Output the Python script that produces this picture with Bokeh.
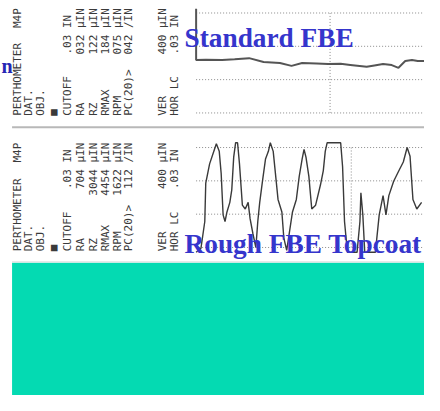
import math
from bokeh.plotting import figure
from bokeh.models import Range1d, Label
from bokeh.core.properties import value
from bokeh.embed import file_html
from bokeh.resources import INLINE

# ---------------- data ----------------
titles = ["Standard FBE", "Rough FBE Topcoat"]
title_fragment = "n"

param_labels = ["PERTHOMETER", "DAT.", "OBJ.", "\u25a0", "CUTOFF", "RA", "RZ",
                "RMAX", "RPM", "PC(20)>", "VER", "HOR  LC"]
top_values = ["M4P", "", "", "", ".03", "032", "122", "184", "075", "042", "400", ".03"]
bottom_values = ["M4P", "", "", "", ".03", "704", "3044", "4454", "1622", "112", "400", ".03"]
units = ["", "", "", "", "IN", "\u00b5IN", "\u00b5IN", "\u00b5IN", "\u00b5IN", "/IN", "\u00b5IN", "IN"]

# profile traces: position along traverse (in) and height (micro-inch)
top_x = [0.000, 0.000, 0.010, 0.027, 0.040, 0.055, 0.070, 0.087, 0.099, 0.110,
         0.125, 0.137, 0.150, 0.160, 0.177, 0.185, 0.194, 0.203, 0.210, 0.217,
         0.224, 0.230, 0.237]
top_h = [1250, 635, 640, 635, 645, 658, 612, 600, 565, 600,
         595, 588, 590, 577, 554, 570, 588, 575, 542, 623,
         635, 623, 623]

bot_x = [0.000, 0.003, 0.005, 0.009, 0.010, 0.014, 0.019, 0.021, 0.024, 0.026,
         0.028, 0.030, 0.032, 0.035, 0.037, 0.039, 0.041, 0.043, 0.045, 0.048,
         0.051, 0.054, 0.056, 0.059, 0.062, 0.064, 0.066, 0.069, 0.072, 0.075,
         0.077, 0.080, 0.083, 0.085, 0.089, 0.091, 0.094, 0.097, 0.100, 0.104,
         0.107, 0.110, 0.112, 0.114, 0.117, 0.120, 0.124, 0.129, 0.132, 0.134,
         0.136, 0.150, 0.152, 0.154, 0.157, 0.167, 0.170, 0.171, 0.173, 0.175,
         0.186, 0.190, 0.194, 0.197, 0.200, 0.205, 0.210, 0.215, 0.219, 0.222,
         0.225, 0.229, 0.234]
bot_h = [-58, -30, -10, 312, 773, 1004, 1177, 1246, 1154, 888,
         392, 312, 427, 542, 692, 1085, 1258, 1258, 1004, 508,
         462, 542, 346, 162, 0, 312, 542, 808, 1062, 1154,
         1258, 1154, 808, 577, 427, 115, -35, 196, 427, 577,
         854, 1062, 1177, 1085, 854, 462, 508, 750, 923, 1154,
         1258, 1258, 969, 312, -58, -58, 312, 658, 392, -58,
         -58, 392, 623, 392, 623, 796, 912, 1027, 1200, 1096,
         577, 462, 542]

grid_h = [0, 400, 800, 1200]
trace_len = 0.24
center_top = 0.139
center_bot = 0.161

# ---------------- figure ----------------
W, H = 424, 395
p = figure(width=W, height=H, output_backend="svg", toolbar_location=None,
           x_range=Range1d(0, 440), y_range=Range1d(411, 0),
           min_border=0, outline_line_color=None,
           background_fill_color="white", border_fill_color="white")
p.axis.visible = False
p.grid.visible = False

# extra scales for the two recorder traces
p.extra_x_ranges = {"trace": Range1d(-0.203, 0.237)}
p.extra_y_ranges = {"top_h": Range1d(-3392.2, 1350.0),
                    "bot_h": Range1d(-1776.9, 2965.3)}

# teal band and separators
p.quad(left=12, right=440, top=273, bottom=411, fill_color="#04DAB2", line_color=None)
p.segment(x0=[12], y0=[272], x1=[440], y1=[272], line_color="#d8d8d8", line_width=1)
p.segment(x0=[12], y0=[132], x1=[440], y1=[132], line_color="#b8b8b8", line_width=2)

grid_col = "#8a8a8a"
for rname, cx in (("top_h", center_top), ("bot_h", center_bot)):
    p.segment(x0=[0] * len(grid_h), y0=grid_h, x1=[trace_len] * len(grid_h), y1=grid_h,
              x_range_name="trace", y_range_name=rname,
              line_color=grid_col, line_width=1, line_dash="1 2")
    p.segment(x0=[cx], y0=[grid_h[0]], x1=[cx], y1=[grid_h[-1]],
              x_range_name="trace", y_range_name=rname,
              line_color=grid_col, line_width=1, line_dash="1 2")

p.line(top_x, top_h, x_range_name="trace", y_range_name="top_h",
       line_color="#555555", line_width=2)
p.line(bot_x, bot_h, x_range_name="trace", y_range_name="bot_h",
       line_color="#3a3a3a", line_width=1.4)

# printed parameter columns (rotated)
col_x = [18, 29, 42, 55, 70, 83, 96, 109, 121, 133, 168, 181]
panels = [(top_values, 120, 8), (bottom_values, 261, 148)]
mono = value("DejaVu Sans Mono")
for vals, y_lab, y_end in panels:
    p.text(x=col_x, y=[y_lab] * len(col_x), text=list(param_labels), angle=math.pi / 2,
           text_align="left", text_baseline="middle", text_font=mono,
           text_font_size="11px", text_color="#3a3a3a")
    vtxt = [(f"{v} {u:>3}" if u else v) for v, u in zip(vals, units)]
    p.text(x=col_x, y=[y_end] * len(col_x), text=vtxt, angle=math.pi / 2,
           text_align="right", text_baseline="middle", text_font=mono,
           text_font_size="11px", text_color="#3a3a3a")

# titles
for t, yb in zip(titles, (39, 253)):
    p.add_layout(Label(x=191, y=yb, text=t, text_font="Liberation Serif",
                       text_font_style="bold", text_font_size="27.3px",
                       text_color="#3535CC", text_baseline="alphabetic",
                       text_align="left"))
# fragment of the slide title at the left edge (kept fully inside)
p.add_layout(Label(x=1, y=68, text=title_fragment, text_font="Liberation Serif",
                   text_font_style="bold", text_font_size="20px",
                   text_color="#2626B4", text_baseline="alphabetic",
                   text_align="left"))

open("out.html", "w").write(file_html(p, INLINE))
